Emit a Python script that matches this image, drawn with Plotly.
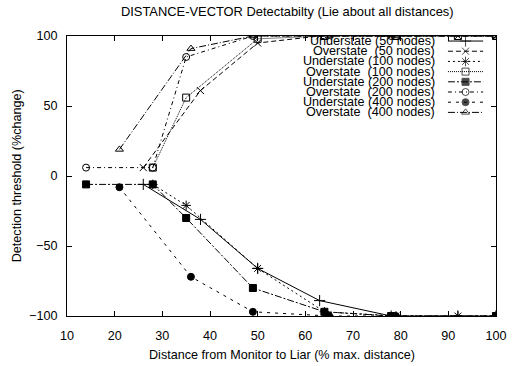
import plotly.graph_objects as go

# ---- data ----
x50 = [26, 38, 50, 63, 78, 92, 100]
under50 = [-6, -31, -66, -89, -100, -100, -100]
over50 = [6, 61, 95, 100, 100, 100, 100]

x100 = [28, 35, 50, 64, 79, 92, 100]
under100 = [-6, -21, -66, -97, -100, -100, -100]
over100 = [6, 56, 98, 100, 100, 100, 100]

x200 = [14, 28, 35, 49, 64, 78, 100]
under200 = [-6, -6, -30, -80, -97, -100, -100]
over200 = [6, 6, 85, 100, 100, 100, 100]

x400 = [21, 36, 49, 65, 79, 100]
under400 = [-8, -72, -97, -100, -100, -100]
over400 = [19, 91, 100, 100, 100, 100]

names = ["Understate (50 nodes)", "Overstate  (50 nodes)",
         "Understate (100 nodes)", "Overstate  (100 nodes)",
         "Understate (200 nodes)", "Overstate  (200 nodes)",
         "Understate (400 nodes)", "Overstate  (400 nodes)"]
xs = [x50, x50, x100, x100, x200, x200, x400, x400]
ys = [under50, over50, under100, over100, under200, over200, under400, over400]

x_ticks = [10, 20, 30, 40, 50, 60, 70, 80, 90, 100]
y_ticks = [-100, -50, 0, 50, 100]

# ---- styles ----
dashes = ["solid", "5px,3px", "2px,3px", "1px,1px",
          "7px,2px,2px,2px", "4px,3px,1px,3px", "3px,5px", "7px,2px,1px,2px"]
symbols = ["cross-thin-open", "x-thin-open", "asterisk-open", "square-open",
           "square", "circle-open", "circle", "triangle-up-open"]
sizes = [8, 7, 8, 7, 7, 7, 7, 7]

FONT = "Liberation Sans, Arial, Helvetica, sans-serif"

fig = go.Figure()
for i in range(8):
    fig.add_trace(go.Scatter(
        x=xs[i], y=ys[i], mode="lines+markers", name=names[i],
        line=dict(color="black", width=1, dash=dashes[i]),
        marker=dict(symbol=symbols[i], size=sizes[i], color="black",
                    line=dict(color="black", width=1)),
        showlegend=False))

# ---- custom gnuplot-style legend (text right, sample on the right) ----
row0 = 0.982
step = 0.0364
for i in range(8):
    r = row0 - i * step
    fig.add_trace(go.Scatter(
        x=[0.888, 0.929, 0.97], y=[r, r, r], mode="lines+markers",
        xaxis="x2", yaxis="y2",
        line=dict(color="black", width=1, dash=dashes[i]),
        marker=dict(symbol=symbols[i], size=[0, sizes[i], 0], color="black",
                    line=dict(color="black", width=1)),
        showlegend=False, hoverinfo="skip"))
    fig.add_annotation(x=0.862, y=r, xref="paper", yref="paper",
                       text=names[i].replace("  ", "&nbsp; "), showarrow=False,
                       xanchor="right", yanchor="middle",
                       font=dict(family=FONT, size=12.6, color="black"))

axis_common = dict(showline=True, linecolor="black", linewidth=1, mirror="allticks",
                   ticks="inside", ticklen=5, tickcolor="black", tickwidth=1,
                   showgrid=False, zeroline=False,
                   tickfont=dict(family=FONT, size=12.6, color="black"))

fig.update_layout(
    width=519, height=366,
    margin=dict(l=67, r=12, t=36, b=50),
    paper_bgcolor="white", plot_bgcolor="white",
    font=dict(family=FONT, size=12.6, color="black"),
    title=dict(text="DISTANCE-VECTOR Detectabilty (Lie about all distances)",
               x=0.5535, xanchor="center", y=1 - 11 / 366, yanchor="middle",
               yref="container",
               font=dict(family=FONT, size=12.9, color="black")),
    xaxis=dict(range=[10, 100], tickvals=x_ticks, ticklabelstandoff=8, **axis_common),
    yaxis=dict(range=[-100, 100], tickvals=y_ticks, ticklabelstandoff=6, **axis_common),
    xaxis2=dict(range=[0, 1], overlaying="x", visible=False),
    yaxis2=dict(range=[0, 1], overlaying="y", visible=False),
)

fig.add_annotation(x=0.5, y=-0.139, xref="paper", yref="paper",
                   text="Distance from Monitor to Liar (% max. distance)",
                   showarrow=False, xanchor="center", yanchor="middle",
                   font=dict(family=FONT, size=12.6, color="black"))
fig.add_annotation(x=-0.116, y=0.5, xref="paper", yref="paper",
                   text="Detection threshold (%change)", textangle=-90,
                   showarrow=False, xanchor="center", yanchor="middle",
                   font=dict(family=FONT, size=12.6, color="black"))

fig.write_html("out.html")
